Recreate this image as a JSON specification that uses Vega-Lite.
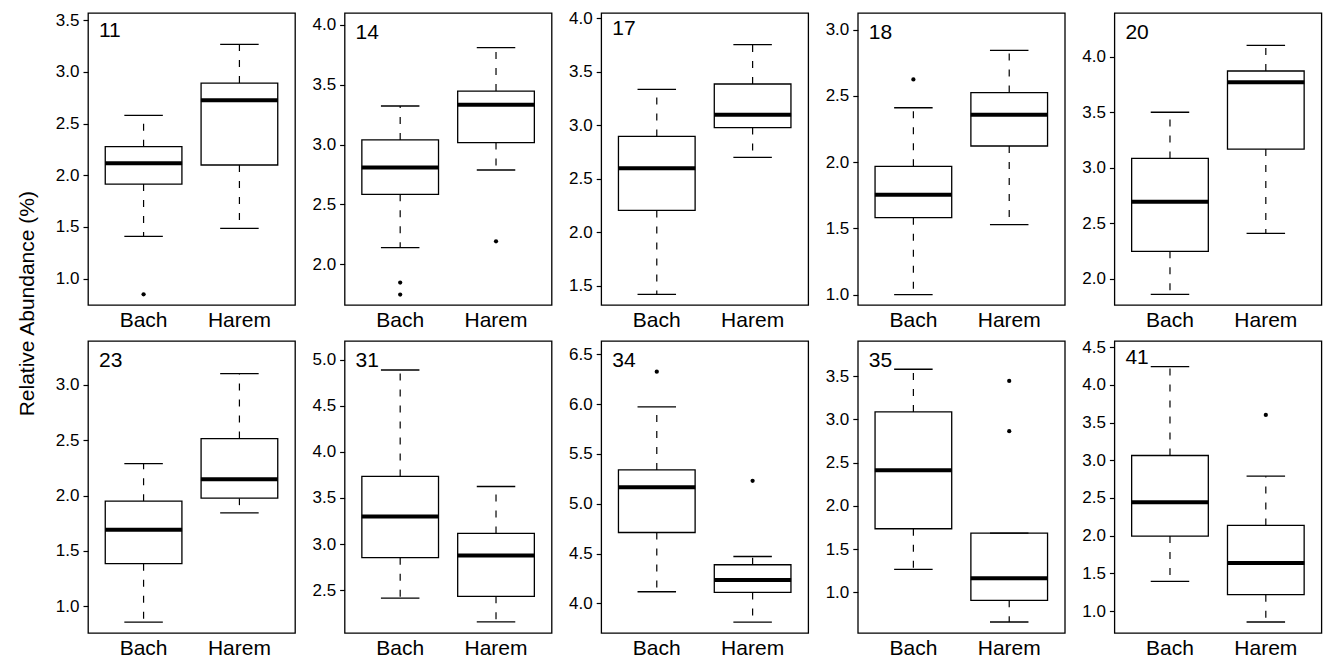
{
  "$schema": "https://vega.github.io/schema/vega-lite/v6.json",
  "padding": {"left": 16, "top": 8, "right": 0, "bottom": 0},
  "title": {"text": "Relative Abundance (%)", "orient": "left", "anchor": "middle", "frame": "bounds", "fontSize": 21, "fontWeight": "normal", "offset": 17, "dx": 30, "dy": 0, "color": "black"},
  "datasets": {
    "box": [
      {"p": 11, "g": "Bach", "lo": 1.41, "q1": 1.915, "med": 2.115, "q3": 2.276, "hi": 2.579},
      {"p": 11, "g": "Harem", "lo": 1.486, "q1": 2.099, "med": 2.724, "q3": 2.891, "hi": 3.265},
      {"p": 14, "g": "Bach", "lo": 2.139, "q1": 2.585, "med": 2.808, "q3": 3.039, "hi": 3.323},
      {"p": 14, "g": "Harem", "lo": 2.788, "q1": 3.017, "med": 3.334, "q3": 3.448, "hi": 3.811},
      {"p": 17, "g": "Bach", "lo": 1.419, "q1": 2.204, "med": 2.597, "q3": 2.896, "hi": 3.336},
      {"p": 17, "g": "Harem", "lo": 2.7, "q1": 2.978, "med": 3.099, "q3": 3.386, "hi": 3.754},
      {"p": 18, "g": "Bach", "lo": 1.0, "q1": 1.581, "med": 1.755, "q3": 1.969, "hi": 2.411},
      {"p": 18, "g": "Harem", "lo": 1.528, "q1": 2.122, "med": 2.358, "q3": 2.525, "hi": 2.844},
      {"p": 20, "g": "Bach", "lo": 1.862, "q1": 2.249, "med": 2.696, "q3": 3.085, "hi": 3.5},
      {"p": 20, "g": "Harem", "lo": 2.411, "q1": 3.169, "med": 3.769, "q3": 3.871, "hi": 4.102},
      {"p": 23, "g": "Bach", "lo": 0.855, "q1": 1.383, "med": 1.69, "q3": 1.949, "hi": 2.289},
      {"p": 23, "g": "Harem", "lo": 1.843, "q1": 1.976, "med": 2.148, "q3": 2.515, "hi": 3.102},
      {"p": 31, "g": "Bach", "lo": 2.413, "q1": 2.851, "med": 3.3, "q3": 3.734, "hi": 4.891},
      {"p": 31, "g": "Harem", "lo": 2.153, "q1": 2.431, "med": 2.876, "q3": 3.115, "hi": 3.625},
      {"p": 34, "g": "Bach", "lo": 4.117, "q1": 4.712, "med": 5.166, "q3": 5.34, "hi": 5.972},
      {"p": 34, "g": "Harem", "lo": 3.813, "q1": 4.11, "med": 4.234, "q3": 4.388, "hi": 4.471},
      {"p": 35, "g": "Bach", "lo": 1.266, "q1": 1.736, "med": 2.414, "q3": 3.088, "hi": 3.581},
      {"p": 35, "g": "Harem", "lo": 0.657, "q1": 0.908, "med": 1.162, "q3": 1.686, "hi": 1.686},
      {"p": 41, "g": "Bach", "lo": 1.394, "q1": 1.994, "med": 2.445, "q3": 3.064, "hi": 4.244},
      {"p": 41, "g": "Harem", "lo": 0.854, "q1": 1.217, "med": 1.637, "q3": 2.136, "hi": 2.79}
    ],
    "out": [
      {"p": 11, "g": "Bach", "v": 0.849},
      {"p": 14, "g": "Bach", "v": 1.847},
      {"p": 14, "g": "Bach", "v": 1.747},
      {"p": 14, "g": "Harem", "v": 2.192},
      {"p": 18, "g": "Bach", "v": 2.625},
      {"p": 34, "g": "Bach", "v": 6.326},
      {"p": 34, "g": "Harem", "v": 5.23},
      {"p": 35, "g": "Harem", "v": 3.446},
      {"p": 35, "g": "Harem", "v": 2.864},
      {"p": 41, "g": "Harem", "v": 3.603}
    ]
  },
  "columns": 5,
  "spacing": {"row": 36, "column": 49.6},
  "bounds": "flush",
  "concat": [
    {
      "width": 207, "height": 292, "title": {"text": "11"},
      "data": {"name": "box"}, "transform": [{"filter": "datum.p == 11"}],
      "encoding": {
        "x": {"field": "g", "type": "nominal", "scale": {"paddingInner": 0.2, "paddingOuter": 0.18}, "axis": {"title": null}},
        "y": {"field": "q1", "type": "quantitative", "scale": {"domain": [0.746, 3.568], "nice": false, "zero": false}, "axis": {"title": null}}
      },
      "layer": [
        {"mark": "rule", "encoding": {"y2": {"field": "lo"}}},
        {"mark": "rule", "encoding": {"y": {"field": "q3", "type": "quantitative", "title": null}, "y2": {"field": "hi"}}},
        {"mark": "bar", "encoding": {"y2": {"field": "q3"}}},
        {"mark": {"type": "tick", "size": 38.5, "thickness": 1.3}, "encoding": {"y": {"field": "lo", "type": "quantitative", "title": null}}},
        {"mark": {"type": "tick", "size": 38.5, "thickness": 1.3}, "encoding": {"y": {"field": "hi", "type": "quantitative", "title": null}}},
        {"mark": {"type": "tick", "size": 77, "thickness": 4}, "encoding": {"y": {"field": "med", "type": "quantitative", "title": null}}},
        {"data": {"name": "out"}, "transform": [{"filter": "datum.p == 11"}], "mark": {"type": "point", "filled": true, "size": 18}, "encoding": {"y": {"field": "v", "type": "quantitative", "title": null}}}
      ]
    },
    {
      "width": 207, "height": 292, "title": {"text": "14"},
      "data": {"name": "box"}, "transform": [{"filter": "datum.p == 14"}],
      "encoding": {
        "x": {"field": "g", "type": "nominal", "scale": {"paddingInner": 0.2, "paddingOuter": 0.18}, "axis": {"title": null}},
        "y": {"field": "q1", "type": "quantitative", "scale": {"domain": [1.66, 4.1], "nice": false, "zero": false}, "axis": {"title": null}}
      },
      "layer": [
        {"mark": "rule", "encoding": {"y2": {"field": "lo"}}},
        {"mark": "rule", "encoding": {"y": {"field": "q3", "type": "quantitative", "title": null}, "y2": {"field": "hi"}}},
        {"mark": "bar", "encoding": {"y2": {"field": "q3"}}},
        {"mark": {"type": "tick", "size": 38.5, "thickness": 1.3}, "encoding": {"y": {"field": "lo", "type": "quantitative", "title": null}}},
        {"mark": {"type": "tick", "size": 38.5, "thickness": 1.3}, "encoding": {"y": {"field": "hi", "type": "quantitative", "title": null}}},
        {"mark": {"type": "tick", "size": 77, "thickness": 4}, "encoding": {"y": {"field": "med", "type": "quantitative", "title": null}}},
        {"data": {"name": "out"}, "transform": [{"filter": "datum.p == 14"}], "mark": {"type": "point", "filled": true, "size": 18}, "encoding": {"y": {"field": "v", "type": "quantitative", "title": null}}}
      ]
    },
    {
      "width": 207, "height": 292, "title": {"text": "17"},
      "data": {"name": "box"}, "transform": [{"filter": "datum.p == 17"}],
      "encoding": {
        "x": {"field": "g", "type": "nominal", "scale": {"paddingInner": 0.2, "paddingOuter": 0.18}, "axis": {"title": null}},
        "y": {"field": "q1", "type": "quantitative", "scale": {"domain": [1.319, 4.05], "nice": false, "zero": false}, "axis": {"title": null}}
      },
      "layer": [
        {"mark": "rule", "encoding": {"y2": {"field": "lo"}}},
        {"mark": "rule", "encoding": {"y": {"field": "q3", "type": "quantitative", "title": null}, "y2": {"field": "hi"}}},
        {"mark": "bar", "encoding": {"y2": {"field": "q3"}}},
        {"mark": {"type": "tick", "size": 38.5, "thickness": 1.3}, "encoding": {"y": {"field": "lo", "type": "quantitative", "title": null}}},
        {"mark": {"type": "tick", "size": 38.5, "thickness": 1.3}, "encoding": {"y": {"field": "hi", "type": "quantitative", "title": null}}},
        {"mark": {"type": "tick", "size": 77, "thickness": 4}, "encoding": {"y": {"field": "med", "type": "quantitative", "title": null}}}
      ]
    },
    {
      "width": 207, "height": 292, "title": {"text": "18"},
      "data": {"name": "box"}, "transform": [{"filter": "datum.p == 18"}],
      "encoding": {
        "x": {"field": "g", "type": "nominal", "scale": {"paddingInner": 0.2, "paddingOuter": 0.18}, "axis": {"title": null}},
        "y": {"field": "q1", "type": "quantitative", "scale": {"domain": [0.922, 3.126], "nice": false, "zero": false}, "axis": {"title": null}}
      },
      "layer": [
        {"mark": "rule", "encoding": {"y2": {"field": "lo"}}},
        {"mark": "rule", "encoding": {"y": {"field": "q3", "type": "quantitative", "title": null}, "y2": {"field": "hi"}}},
        {"mark": "bar", "encoding": {"y2": {"field": "q3"}}},
        {"mark": {"type": "tick", "size": 38.5, "thickness": 1.3}, "encoding": {"y": {"field": "lo", "type": "quantitative", "title": null}}},
        {"mark": {"type": "tick", "size": 38.5, "thickness": 1.3}, "encoding": {"y": {"field": "hi", "type": "quantitative", "title": null}}},
        {"mark": {"type": "tick", "size": 77, "thickness": 4}, "encoding": {"y": {"field": "med", "type": "quantitative", "title": null}}},
        {"data": {"name": "out"}, "transform": [{"filter": "datum.p == 18"}], "mark": {"type": "point", "filled": true, "size": 18}, "encoding": {"y": {"field": "v", "type": "quantitative", "title": null}}}
      ]
    },
    {
      "width": 207, "height": 292, "title": {"text": "20"},
      "data": {"name": "box"}, "transform": [{"filter": "datum.p == 20"}],
      "encoding": {
        "x": {"field": "g", "type": "nominal", "scale": {"paddingInner": 0.2, "paddingOuter": 0.18}, "axis": {"title": null}},
        "y": {"field": "q1", "type": "quantitative", "scale": {"domain": [1.766, 4.393], "nice": false, "zero": false}, "axis": {"title": null}}
      },
      "layer": [
        {"mark": "rule", "encoding": {"y2": {"field": "lo"}}},
        {"mark": "rule", "encoding": {"y": {"field": "q3", "type": "quantitative", "title": null}, "y2": {"field": "hi"}}},
        {"mark": "bar", "encoding": {"y2": {"field": "q3"}}},
        {"mark": {"type": "tick", "size": 38.5, "thickness": 1.3}, "encoding": {"y": {"field": "lo", "type": "quantitative", "title": null}}},
        {"mark": {"type": "tick", "size": 38.5, "thickness": 1.3}, "encoding": {"y": {"field": "hi", "type": "quantitative", "title": null}}},
        {"mark": {"type": "tick", "size": 77, "thickness": 4}, "encoding": {"y": {"field": "med", "type": "quantitative", "title": null}}}
      ]
    },
    {
      "width": 207, "height": 292, "title": {"text": "23"},
      "data": {"name": "box"}, "transform": [{"filter": "datum.p == 23"}],
      "encoding": {
        "x": {"field": "g", "type": "nominal", "scale": {"paddingInner": 0.2, "paddingOuter": 0.18}, "axis": {"title": null}},
        "y": {"field": "q1", "type": "quantitative", "scale": {"domain": [0.756, 3.398], "nice": false, "zero": false}, "axis": {"title": null}}
      },
      "layer": [
        {"mark": "rule", "encoding": {"y2": {"field": "lo"}}},
        {"mark": "rule", "encoding": {"y": {"field": "q3", "type": "quantitative", "title": null}, "y2": {"field": "hi"}}},
        {"mark": "bar", "encoding": {"y2": {"field": "q3"}}},
        {"mark": {"type": "tick", "size": 38.5, "thickness": 1.3}, "encoding": {"y": {"field": "lo", "type": "quantitative", "title": null}}},
        {"mark": {"type": "tick", "size": 38.5, "thickness": 1.3}, "encoding": {"y": {"field": "hi", "type": "quantitative", "title": null}}},
        {"mark": {"type": "tick", "size": 77, "thickness": 4}, "encoding": {"y": {"field": "med", "type": "quantitative", "title": null}}}
      ]
    },
    {
      "width": 207, "height": 292, "title": {"text": "31"},
      "data": {"name": "box"}, "transform": [{"filter": "datum.p == 31"}],
      "encoding": {
        "x": {"field": "g", "type": "nominal", "scale": {"paddingInner": 0.2, "paddingOuter": 0.18}, "axis": {"title": null}},
        "y": {"field": "q1", "type": "quantitative", "scale": {"domain": [2.033, 5.206], "nice": false, "zero": false}, "axis": {"title": null}}
      },
      "layer": [
        {"mark": "rule", "encoding": {"y2": {"field": "lo"}}},
        {"mark": "rule", "encoding": {"y": {"field": "q3", "type": "quantitative", "title": null}, "y2": {"field": "hi"}}},
        {"mark": "bar", "encoding": {"y2": {"field": "q3"}}},
        {"mark": {"type": "tick", "size": 38.5, "thickness": 1.3}, "encoding": {"y": {"field": "lo", "type": "quantitative", "title": null}}},
        {"mark": {"type": "tick", "size": 38.5, "thickness": 1.3}, "encoding": {"y": {"field": "hi", "type": "quantitative", "title": null}}},
        {"mark": {"type": "tick", "size": 77, "thickness": 4}, "encoding": {"y": {"field": "med", "type": "quantitative", "title": null}}}
      ]
    },
    {
      "width": 207, "height": 292, "title": {"text": "34"},
      "data": {"name": "box"}, "transform": [{"filter": "datum.p == 34"}],
      "encoding": {
        "x": {"field": "g", "type": "nominal", "scale": {"paddingInner": 0.2, "paddingOuter": 0.18}, "axis": {"title": null}},
        "y": {"field": "q1", "type": "quantitative", "scale": {"domain": [3.703, 6.634], "nice": false, "zero": false}, "axis": {"title": null}}
      },
      "layer": [
        {"mark": "rule", "encoding": {"y2": {"field": "lo"}}},
        {"mark": "rule", "encoding": {"y": {"field": "q3", "type": "quantitative", "title": null}, "y2": {"field": "hi"}}},
        {"mark": "bar", "encoding": {"y2": {"field": "q3"}}},
        {"mark": {"type": "tick", "size": 38.5, "thickness": 1.3}, "encoding": {"y": {"field": "lo", "type": "quantitative", "title": null}}},
        {"mark": {"type": "tick", "size": 38.5, "thickness": 1.3}, "encoding": {"y": {"field": "hi", "type": "quantitative", "title": null}}},
        {"mark": {"type": "tick", "size": 77, "thickness": 4}, "encoding": {"y": {"field": "med", "type": "quantitative", "title": null}}},
        {"data": {"name": "out"}, "transform": [{"filter": "datum.p == 34"}], "mark": {"type": "point", "filled": true, "size": 18}, "encoding": {"y": {"field": "v", "type": "quantitative", "title": null}}}
      ]
    },
    {
      "width": 207, "height": 292, "title": {"text": "35"},
      "data": {"name": "box"}, "transform": [{"filter": "datum.p == 35"}],
      "encoding": {
        "x": {"field": "g", "type": "nominal", "scale": {"paddingInner": 0.2, "paddingOuter": 0.18}, "axis": {"title": null}},
        "y": {"field": "q1", "type": "quantitative", "scale": {"domain": [0.53, 3.908], "nice": false, "zero": false}, "axis": {"title": null}}
      },
      "layer": [
        {"mark": "rule", "encoding": {"y2": {"field": "lo"}}},
        {"mark": "rule", "encoding": {"y": {"field": "q3", "type": "quantitative", "title": null}, "y2": {"field": "hi"}}},
        {"mark": "bar", "encoding": {"y2": {"field": "q3"}}},
        {"mark": {"type": "tick", "size": 38.5, "thickness": 1.3}, "encoding": {"y": {"field": "lo", "type": "quantitative", "title": null}}},
        {"mark": {"type": "tick", "size": 38.5, "thickness": 1.3}, "encoding": {"y": {"field": "hi", "type": "quantitative", "title": null}}},
        {"mark": {"type": "tick", "size": 77, "thickness": 4}, "encoding": {"y": {"field": "med", "type": "quantitative", "title": null}}},
        {"data": {"name": "out"}, "transform": [{"filter": "datum.p == 35"}], "mark": {"type": "point", "filled": true, "size": 18}, "encoding": {"y": {"field": "v", "type": "quantitative", "title": null}}}
      ]
    },
    {
      "width": 207, "height": 292, "title": {"text": "41"},
      "data": {"name": "box"}, "transform": [{"filter": "datum.p == 41"}],
      "encoding": {
        "x": {"field": "g", "type": "nominal", "scale": {"paddingInner": 0.2, "paddingOuter": 0.18}, "axis": {"title": null}},
        "y": {"field": "q1", "type": "quantitative", "scale": {"domain": [0.708, 4.584], "nice": false, "zero": false}, "axis": {"title": null}}
      },
      "layer": [
        {"mark": "rule", "encoding": {"y2": {"field": "lo"}}},
        {"mark": "rule", "encoding": {"y": {"field": "q3", "type": "quantitative", "title": null}, "y2": {"field": "hi"}}},
        {"mark": "bar", "encoding": {"y2": {"field": "q3"}}},
        {"mark": {"type": "tick", "size": 38.5, "thickness": 1.3}, "encoding": {"y": {"field": "lo", "type": "quantitative", "title": null}}},
        {"mark": {"type": "tick", "size": 38.5, "thickness": 1.3}, "encoding": {"y": {"field": "hi", "type": "quantitative", "title": null}}},
        {"mark": {"type": "tick", "size": 77, "thickness": 4}, "encoding": {"y": {"field": "med", "type": "quantitative", "title": null}}},
        {"data": {"name": "out"}, "transform": [{"filter": "datum.p == 41"}], "mark": {"type": "point", "filled": true, "size": 18}, "encoding": {"y": {"field": "v", "type": "quantitative", "title": null}}}
      ]
    }
  ],
  "config": {
    "font": "Liberation Sans",
    "background": "white",
    "view": {"stroke": "black", "strokeWidth": 1.3},
    "axis": {"labelColor": "black", "tickColor": "black", "domain": false, "grid": false, "labelFont": "Liberation Sans"},
    "axisY": {"tickCount": 6, "tickSize": 5, "tickWidth": 1.2, "labelFontSize": 17, "labelPadding": 4},
    "axisX": {"ticks": false, "labelFontSize": 21, "labelPadding": 4, "labelAngle": 0},
    "title": {"fontSize": 21, "fontWeight": "normal", "anchor": "start", "frame": "group", "offset": -30, "dx": 11, "color": "black"},
    "rule": {"color": "black", "strokeDash": [7, 9], "strokeWidth": 1.2},
    "tick": {"color": "black", "opacity": 1},
    "point": {"color": "black", "opacity": 1},
    "bar": {"fill": "white", "stroke": "black", "strokeWidth": 1.3, "opacity": 1}
  }
}
